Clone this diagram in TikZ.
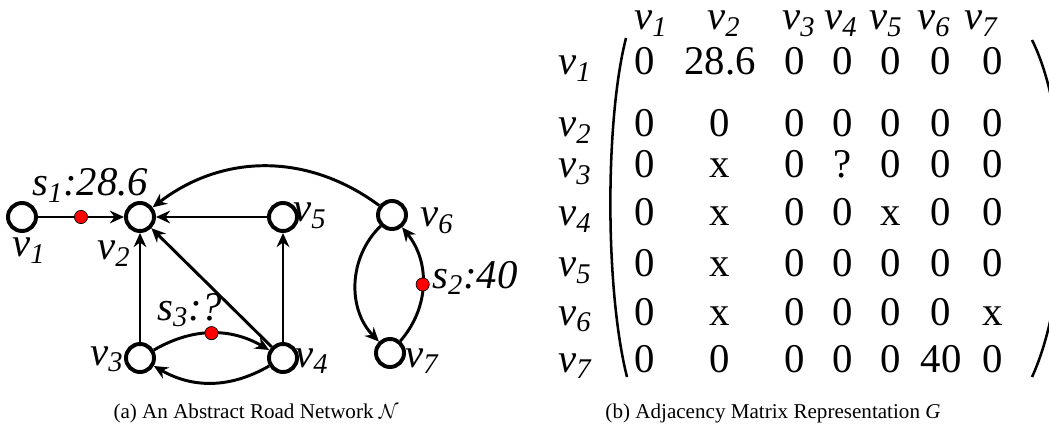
\documentclass[tikz,border=0pt]{standalone}
\usepackage{fontspec}
\setmainfont{Liberation Serif}
\usetikzlibrary{arrows.meta}

\newcommand{\vlab}[1]{\textit{v\textsubscript{#1}}}
\newcommand{\slab}[2]{\textit{s\textsubscript{#1}:#2}}

\begin{document}
\begin{tikzpicture}[
    x=0.025cm, y=0.025cm,
    >={Stealth[length=10pt,width=9pt]},
    every node/.style={font=\fontsize{29}{32}\selectfont, inner sep=0pt},
    vtx/.style={circle, draw, line width=2.8pt, minimum size=0.7cm},
    dot/.style={circle, draw, fill=red, line width=0.5pt, minimum size=0.33cm},
    road/.style={->, line width=2.1pt},
    lab/.style={anchor=base west},
    head/.style={lab, text height=1.5ex},
    ent/.style={anchor=base},
    captext/.style={font=\fontsize{15}{18}\selectfont}
]
\useasboundingbox (0,0) rectangle (1049,-431);

% road network vertices
\node[vtx] (v1) at (22,-217)  {};
\node[vtx] (v2) at (140,-217) {};
\node[vtx] (v5) at (283,-217) {};
\node[vtx] (v6) at (392,-215) {};
\node[vtx] (v3) at (140,-358) {};
\node[vtx] (v4) at (283,-358) {};
\node[vtx] (v7) at (390,-353) {};

% roads (sensors sit on some of them)
\draw[road] (v1) -- node[dot] (s1) {} (v2);
\draw[road] (v5) -- (v2);
\draw[road] (v3) -- (v2);
\draw[road] (v4) -- (v2);
\draw[road] (v4) -- (v5);
\draw[road] (v6) to[bend right=37] (v2);
\draw[road] (v3) to[bend left=30] node[dot] (s3) {} (v4);
\draw[road] (v4) to[bend left=30] (v3);
\draw[road] (v6) to[bend right=45] (v7);
\draw[road] (v7) to[bend right=40] node[dot] (s2) {} (v6);

% vertex and sensor labels
\node[lab] (lv1) at (12,-257)  {\vlab{1}};
\node[lab] (lv2) at (97,-260)  {\vlab{2}};
\node[lab] (lv3) at (90,-365)  {\vlab{3}};
\node[lab] (lv4) at (295,-367) {\vlab{4}};
\node[lab] (lv5) at (293,-222) {\vlab{5}};
\node[lab] (lv6) at (420,-227) {\vlab{6}};
\node[lab] (lv7) at (405,-367) {\vlab{7}};
\node[lab] (ls1) at (32,-196)  {\slab{1}{28.6}};
\node[lab] (ls2) at (432,-288) {\slab{2}{40}};
\node[lab] (ls3) at (157,-320) {\slab{3}{?}};

% matrix columns (x) and row baselines (y)
\def\ca{645}
\def\cb{720}
\def\cc{795}
\def\cd{843}
\def\ce{891}
\def\cf{941}
\def\cg{993}
\def\ra{-75}
\def\rb{-137}
\def\rc{-178}
\def\rd{-226}
\def\re{-277}
\def\rf{-325}
\def\rg{-372}

% column heads
\node[head] (h1) at (634,-30) {\vlab{1}};
\node[head] (h2) at (707,-30) {\vlab{2}};
\node[head] (h3) at (782,-30) {\vlab{3}};
\node[head] (h4) at (824,-30) {\vlab{4}};
\node[head] (h5) at (869,-30) {\vlab{5}};
\node[head] (h6) at (917,-30) {\vlab{6}};
\node[head] (h7) at (964,-30) {\vlab{7}};

% row heads
\node[lab] (r1) at (558,\ra) {\vlab{1}};
\node[lab] (r2) at (558,\rb) {\vlab{2}};
\node[lab] (r3) at (558,\rc) {\vlab{3}};
\node[lab] (r4) at (558,\rd) {\vlab{4}};
\node[lab] (r5) at (558,\re) {\vlab{5}};
\node[lab] (r6) at (558,\rf) {\vlab{6}};
\node[lab] (r7) at (558,\rg) {\vlab{7}};

% entries
\foreach \x/\e [count=\i] in {\ca/0,\cb/28.6,\cc/0,\cd/0,\ce/0,\cf/0,\cg/0}
  \node[ent] (m1\i) at (\x,\ra) {\e};
\foreach \x/\e [count=\i] in {\ca/0,\cb/0,\cc/0,\cd/0,\ce/0,\cf/0,\cg/0}
  \node[ent] (m2\i) at (\x,\rb) {\e};
\foreach \x/\e [count=\i] in {\ca/0,\cb/x,\cc/0,\cd/?,\ce/0,\cf/0,\cg/0}
  \node[ent] (m3\i) at (\x,\rc) {\e};
\foreach \x/\e [count=\i] in {\ca/0,\cb/x,\cc/0,\cd/0,\ce/x,\cf/0,\cg/0}
  \node[ent] (m4\i) at (\x,\rd) {\e};
\foreach \x/\e [count=\i] in {\ca/0,\cb/x,\cc/0,\cd/0,\ce/0,\cf/0,\cg/0}
  \node[ent] (m5\i) at (\x,\re) {\e};
\foreach \x/\e [count=\i] in {\ca/0,\cb/x,\cc/0,\cd/0,\ce/0,\cf/0,\cg/x}
  \node[ent] (m6\i) at (\x,\rf) {\e};
\foreach \x/\e [count=\i] in {\ca/0,\cb/0,\cc/0,\cd/0,\ce/0,\cf/40,\cg/0}
  \node[ent] (m7\i) at (\x,\rg) {\e};

% brackets
\draw[line width=1.8pt] (626,-38) .. controls (605,-120) and (605,-290) .. (627,-377);
\draw[line width=1.8pt] (1032,-40) .. controls (1072,-120) and (1072,-290) .. (1032,-377);

% captions
\node[captext] (capa) at (256,-413) {(a) An Abstract Road Network $\mathcal{N}$};
\node[captext] (capb) at (773,-413) {(b) Adjacency Matrix Representation \textit{G}};

\end{tikzpicture}
\end{document}
